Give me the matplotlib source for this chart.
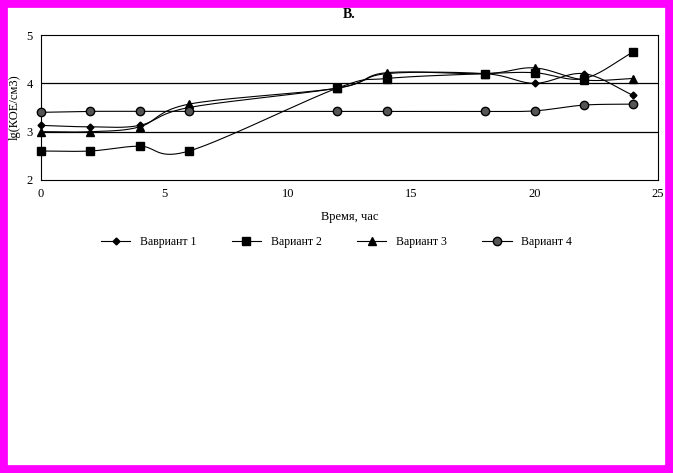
import numpy as np
import matplotlib.pyplot as plt
from matplotlib.patches import Rectangle

plt.rcParams['font.family'] = ['Liberation Serif', 'DejaVu Serif']

hours = [0, 2, 4, 6, 12, 14, 18, 20, 22, 24]
v1 = [3.13, 3.10, 3.13, 3.50, 3.90, 4.20, 4.20, 4.00, 4.20, 3.75]
v2 = [2.60, 2.60, 2.70, 2.60, 3.90, 4.10, 4.20, 4.22, 4.10, 4.65]
v3 = [3.00, 3.00, 3.10, 3.57, 3.90, 4.22, 4.20, 4.32, 4.07, 4.10]
v4 = [3.40, 3.42, 3.42, 3.42, 3.42, 3.42, 3.42, 3.43, 3.55, 3.57]
labels = ['Вавриант 1', 'Вариант 2', 'Вариант 3', 'Вариант 4']
markers = ['D', 's', '^', 'o']
msizes = [3.5, 5.5, 5.5, 6]
faces = ['black', 'black', 'black', '#555555']


def smooth(x, y, n=20):
    # catmull-rom style smoothing like Excel's smoothed lines
    x = np.asarray(x, float)
    y = np.asarray(y, float)
    px = np.concatenate([[2 * x[0] - x[1]], x, [2 * x[-1] - x[-2]]])
    py = np.concatenate([[2 * y[0] - y[1]], y, [2 * y[-1] - y[-2]]])
    xs, ys = [], []
    t = np.linspace(0, 1, n)
    for i in range(1, len(px) - 2):
        for arr, out in ((px, xs), (py, ys)):
            p0, p1, p2, p3 = arr[i - 1:i + 3]
            out.extend(0.5 * ((2 * p1) + (-p0 + p2) * t
                              + (2 * p0 - 5 * p1 + 4 * p2 - p3) * t ** 2
                              + (-p0 + 3 * p1 - 3 * p2 + p3) * t ** 3))
    return xs, ys


fig = plt.figure(figsize=(6.73, 4.73), dpi=100)
fig.patches.append(Rectangle((0.004, 0.006), 0.992, 0.988, transform=fig.transFigure,
                             fill=False, edgecolor='#ff00ff', linewidth=7))
ax = fig.add_axes([41 / 673, 1 - 180 / 473, 617 / 673, 145 / 473])

for y, m, ms, fc, lab in zip([v1, v2, v3, v4], markers, msizes, faces, labels):
    sx, sy = smooth(hours, y)
    ax.plot(sx, sy, color='black', linewidth=0.8)
    ax.plot(hours, y, linestyle='none', marker=m, markersize=ms, color='black',
            markerfacecolor=fc, clip_on=False, zorder=5)
    ax.plot([], [], color='black', linewidth=0.8, marker=m, markersize=ms,
            markerfacecolor=fc, label=lab)

ax.set_xlim(0, 25)
ax.set_ylim(2, 5)
ax.set_xticks([0, 5, 10, 15, 20, 25])
ax.set_yticks([2, 3, 4, 5])
for g in [3, 4]:
    ax.axhline(g, color='black', linewidth=0.9)
ax.tick_params(labelsize=9, length=0, pad=6)
ax.set_xlabel('Время, час', fontsize=9, labelpad=8)
ax.set_ylabel('lg(КОЕ/см3)', fontsize=9, labelpad=4)
ax.set_title('В.', fontsize=10, fontweight='bold', pad=12)
fig.legend(loc='center', bbox_to_anchor=(0.5, 1 - 242 / 473), ncol=4, frameon=False,
           fontsize=8.5, handlelength=2.5, columnspacing=3.0)
fig.savefig('out.png', dpi=100)
